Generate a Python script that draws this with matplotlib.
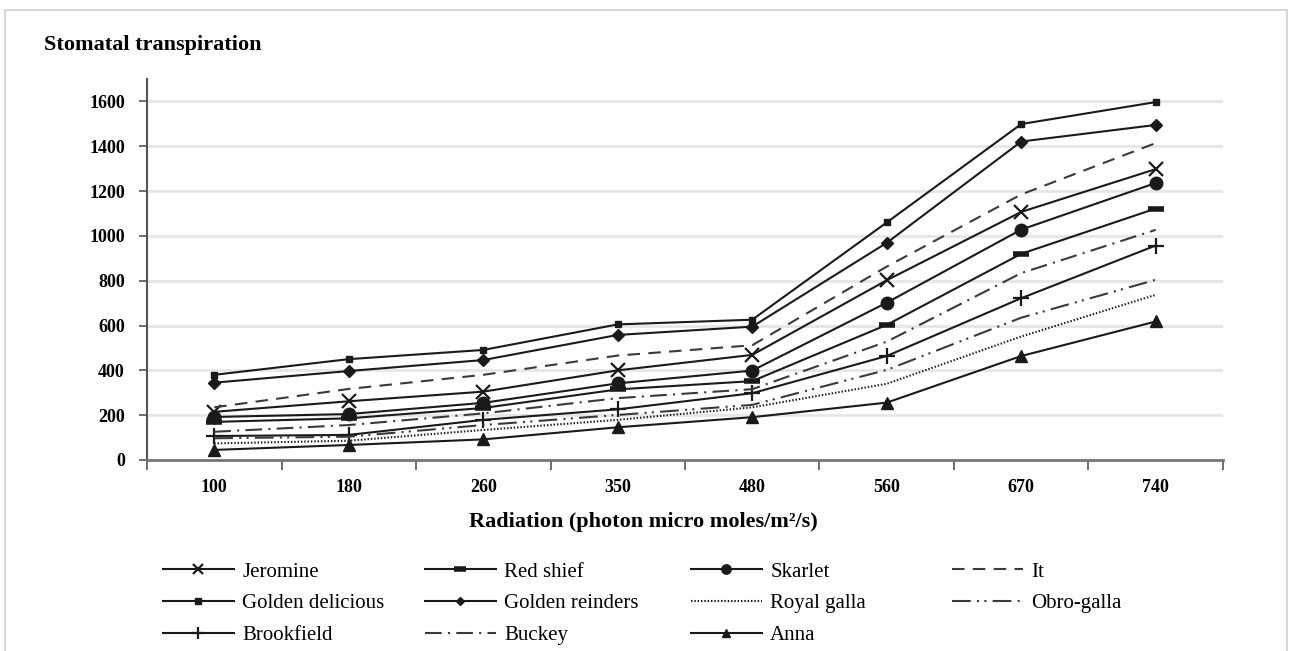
import numpy as np
import matplotlib.pyplot as plt
from matplotlib.patches import Rectangle

## data
radiation = ['100', '180', '260', '350', '480', '560', '670', '740']

jeromine = [215, 262, 305, 400, 469, 802, 1107, 1298]
red_shief = [170, 186, 232, 315, 352, 603, 920, 1122]
skarlet = [192, 205, 255, 342, 399, 702, 1028, 1236]
it = [235, 317, 380, 466, 512, 863, 1185, 1414]
golden_delicious = [380, 450, 491, 605, 626, 1060, 1499, 1597]
golden_reinders = [345, 397, 446, 558, 595, 969, 1421, 1495]
royal_galla = [74, 86, 134, 179, 235, 340, 551, 737]
obro_galla = [97, 104, 156, 201, 246, 402, 635, 804]
brookfield = [107, 112, 179, 226, 298, 464, 722, 957]
buckey = [126, 156, 208, 276, 316, 528, 834, 1027]
anna = [45, 67, 92, 146, 191, 256, 464, 618]

dark = '#1a1a1a'
grey = '#3a3a3a'
lw = 1.5

##series styles, listed in legend column order
series = [
    ('Jeromine', jeromine, dict(color=dark, marker='x', ms=10, mew=1.6)),
    ('Golden delicious', golden_delicious, dict(color=dark, marker='s', ms=5)),
    ('Brookfield', brookfield, dict(color=dark, marker='+', ms=12, mew=1.6)),
    ('Red shief', red_shief, dict(color=dark, marker='_', ms=11, mew=4)),
    ('Golden reinders', golden_reinders, dict(color=dark, marker='D', ms=6)),
    ('Buckey', buckey, dict(color=grey, dashes=(8, 3, 1, 3))),
    ('Skarlet', skarlet, dict(color=dark, marker='o', ms=9)),
    ('Royal galla', royal_galla, dict(color=dark, dashes=(0.7, 0.9))),
    ('Anna', anna, dict(color=dark, marker='^', ms=8)),
    ('It', it, dict(color=grey, dashes=(6, 4))),
    ('Obro-galla', obro_galla, dict(color=grey, dashes=(9, 3, 1, 2.5, 1, 3))),
]

serif = 'Liberation Serif'
fig = plt.figure(figsize=(12.93, 6.51), dpi=100)
ax = fig.add_axes([147/1293, 1-460/651, (1223-147)/1293, (460-79)/651])

x = np.arange(len(radiation))
handles = {}
for name, vals, st in series:
    h, = ax.plot(x, vals, lw=lw, label=name, **st)
    handles[name] = h

ax.set_xlim(-0.5, len(radiation)-0.5)
ax.set_ylim(0, 1700)
ax.set_yticks(np.arange(0, 1601, 200))
ax.set_xticks(x)
ax.set_xticklabels(radiation)
ax.set_xticks(np.arange(-0.5, len(radiation)), minor=True)
ax.tick_params(axis='x', which='major', length=0, pad=14)
ax.tick_params(axis='x', which='minor', length=7, width=1.2, color='#555555')
ax.tick_params(axis='y', length=6, width=1.2, color='#555555', pad=10)
for lab in ax.get_xticklabels() + ax.get_yticklabels():
    lab.set_fontfamily(serif)
    lab.set_fontweight('bold')
    lab.set_fontsize(13)

ax.grid(axis='y', color='#e6e6e6', lw=2)
ax.set_axisbelow(True)
for s in ['top', 'right']:
    ax.spines[s].set_visible(False)
ax.spines['left'].set_color('#555555')
ax.spines['bottom'].set_color('#777777')
ax.spines['left'].set_linewidth(1.5)
ax.spines['bottom'].set_linewidth(2)

fig.text(44/1293, 1-45/651, 'Stomatal transpiration', family=serif,
         fontweight='bold', fontsize=16, va='center', ha='left')
fig.text(643/1293, 1-522/651, 'Radiation (photon micro moles/m²/s)', family=serif,
         fontweight='bold', fontsize=16, va='center', ha='center')

##one legend per column so the columns sit evenly spaced
cols = [['Jeromine', 'Golden delicious', 'Brookfield'],
        ['Red shief', 'Golden reinders', 'Buckey'],
        ['Skarlet', 'Royal galla', 'Anna'],
        ['It', 'Obro-galla']]
col_x = [163, 425, 691, 952]
for names, cx in zip(cols, col_x):
    leg = fig.legend([handles[n] for n in names], names, loc='upper left',
                     bbox_to_anchor=(cx/1293, 1-562/651), frameon=False,
                     borderpad=0, borderaxespad=0, handlelength=3.4,
                     handletextpad=0.4, labelspacing=0.58,
                     prop={'family': serif, 'size': 15})
    # legend markers are drawn a bit smaller than in the plot
    for lh in leg.legend_handles:
        lh.set_markersize(lh.get_markersize()*0.75)

fig.patches.append(Rectangle((5/1293, -0.1), (1287-5)/1293, 1.1-10/651,
                             transform=fig.transFigure, fill=False,
                             edgecolor='#cfcfcf', lw=1.2))

fig.savefig('out.png', dpi=100)
